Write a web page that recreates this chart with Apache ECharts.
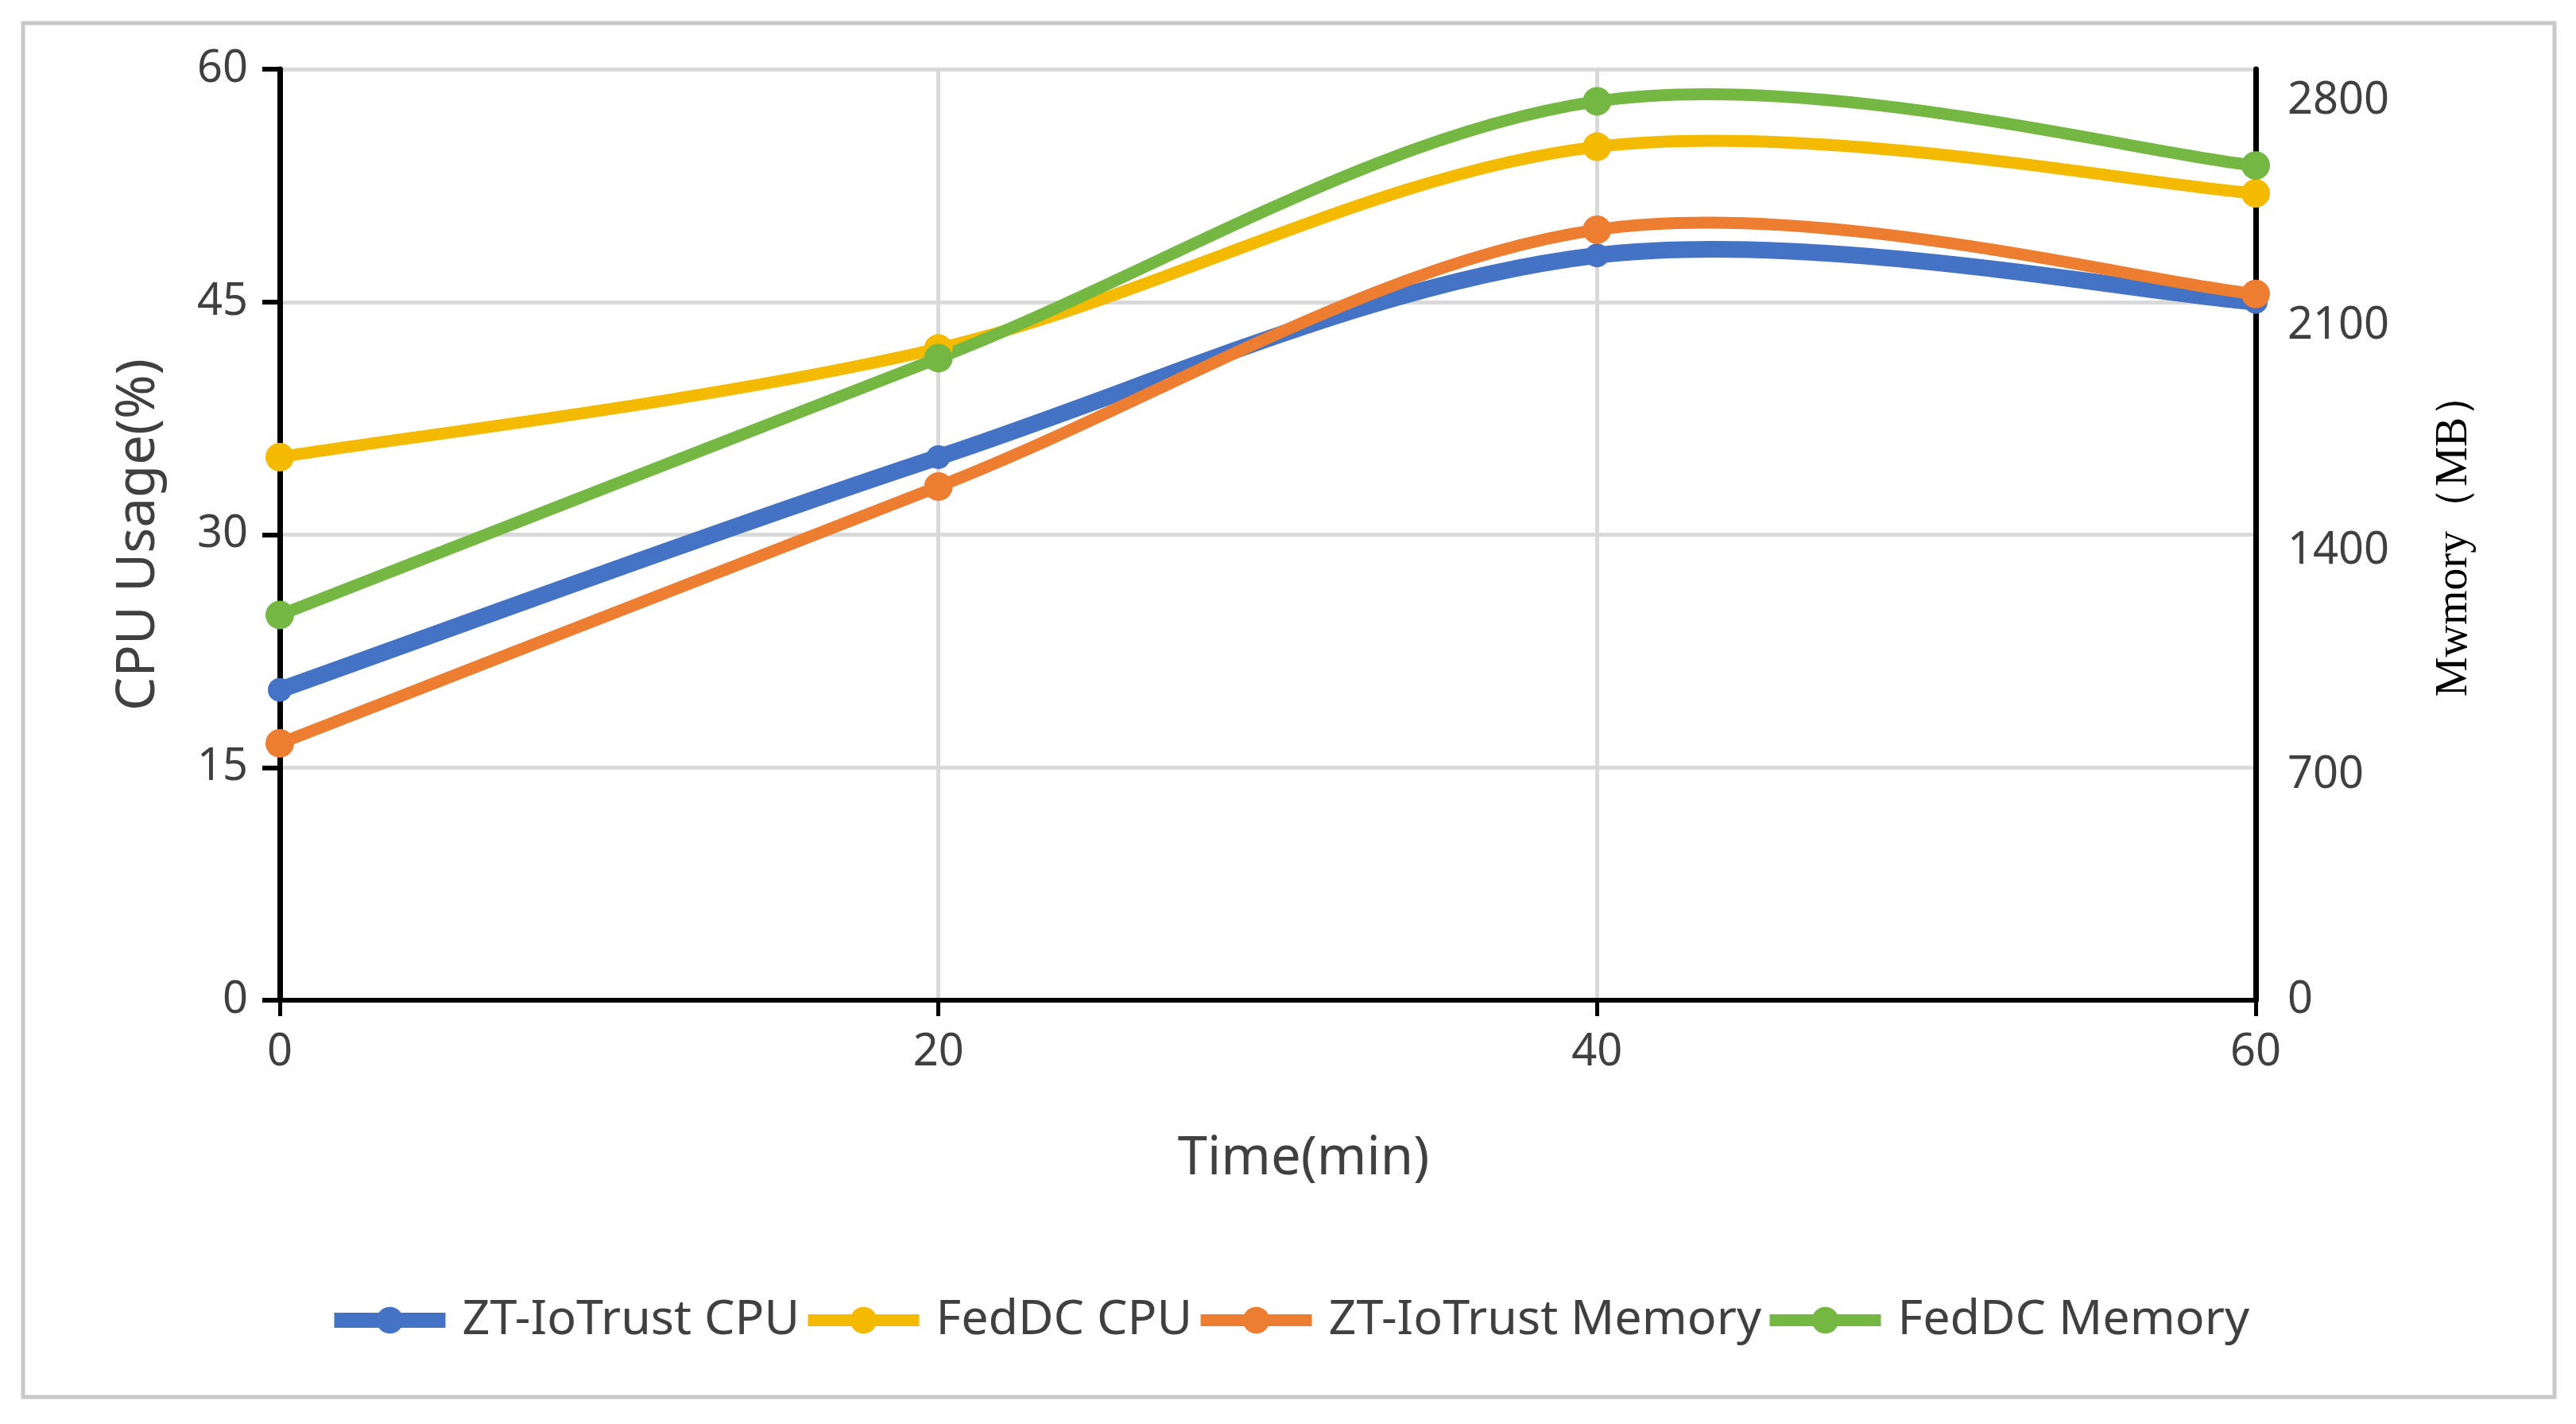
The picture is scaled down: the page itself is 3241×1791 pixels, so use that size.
<!DOCTYPE html>
<html>
<head>
<meta charset="utf-8">
<script src="https://cdn.jsdelivr.net/npm/echarts@6/dist/echarts.min.js"></script>
<style>
html,body{margin:0;padding:0;background:#fff;}
#chart{width:3241px;height:1791px;}
</style>
</head>
<body>
<div id="chart"></div>
<script>
const times = [0, 20, 40, 60];
const ztCpu = [20, 35, 48, 45];
const fedCpu = [35, 42, 55, 52];
const ztMem = [800, 1600, 2400, 2200];
const fedMem = [1200, 2000, 2800, 2600];
const seriesNames = ['ZT-IoTrust CPU', 'FedDC CPU', 'ZT-IoTrust Memory', 'FedDC Memory'];
const xTitle = 'Time(min)';
const yLeftTitle = 'CPU Usage(%)';
const yRightTitle = 'Mwmory（MB）';

const colors = ['#4472C4', '#F4BA00', '#ED7D31', '#74B843'];
const widths = [21, 15, 15, 15];
const symSizes = [30, 36, 36, 36];
const pair = (ys) => times.map((t, i) => [t, ys[i]]);

const chart = echarts.init(document.getElementById('chart'));
const labelColor = '#404040';
const sans = '"Noto Sans", "Open Sans", sans-serif';

// Smooth curve (Catmull-Rom style bezier) drawn through the axis scales via api.coord
function curveSeries(key, ys, yIdx, color, width, z) {
  return {
    type: 'custom', name: key, yAxisIndex: yIdx, data: pair(ys), silent: true, z,
    renderItem: function (params, api) {
      if (params.dataIndex !== 0) return null;
      const pts = times.map((t, i) => api.coord([t, ys[i]]));
      const n = pts.length;
      let d = 'M' + pts[0][0] + ' ' + pts[0][1];
      for (let i = 0; i < n - 1; i++) {
        const p0 = pts[Math.max(i - 1, 0)], p1 = pts[i], p2 = pts[i + 1], p3 = pts[Math.min(i + 2, n - 1)];
        const c1x = p1[0] + (p2[0] - p0[0]) / 6, c1y = p1[1] + (p2[1] - p0[1]) / 6;
        const c2x = p2[0] - (p3[0] - p1[0]) / 6, c2y = p2[1] - (p3[1] - p1[1]) / 6;
        d += ' C' + c1x + ' ' + c1y + ' ' + c2x + ' ' + c2y + ' ' + p2[0] + ' ' + p2[1];
      }
      return {
        type: 'path', shape: { pathData: d },
        style: { fill: 'none', stroke: color, lineWidth: width, lineCap: 'round', lineJoin: 'round' }
      };
    }
  };
}

function markerSeries(name, ys, yIdx, color, sym, z) {
  return {
    name, type: 'line', data: pair(ys), yAxisIndex: yIdx,
    symbol: 'circle', symbolSize: sym, showSymbol: true,
    lineStyle: { color, width: 0, opacity: 0 },
    itemStyle: { color },
    emphasis: { disabled: true },
    z
  };
}

chart.setOption({
  animation: false,
  backgroundColor: '#fff',
  color: colors,
  graphic: [{
    type: 'rect', shape: { x: 29, y: 29, width: 3185, height: 1728 },
    style: { fill: 'none', stroke: '#c8c8c8', lineWidth: 5 }, z: -10
  }],
  grid: { left: 352, right: 403, top: 87, bottom: 533, containLabel: false },
  legend: {
    data: seriesNames.map((nm, i) => ({
      name: nm,
      itemStyle: { color: colors[i] },
      lineStyle: { color: colors[i], width: i === 0 ? 19 : 15, opacity: 1 }
    })),
    left: 'center', top: 1625,
    itemWidth: 140, itemHeight: 42, itemGap: 3,
    textStyle: { fontFamily: sans, fontSize: 61, color: labelColor, padding: [0, 0, 0, 16] }
  },
  xAxis: {
    type: 'value', min: 0, max: 60, interval: 20,
    name: xTitle, nameLocation: 'middle', nameGap: 166,
    nameTextStyle: { fontFamily: sans, fontSize: 67, color: labelColor, padding: [0, 0, 0, 90] },
    axisLine: { show: true, onZero: false, lineStyle: { color: '#000', width: 6 } },
    axisTick: { show: true, length: 20, lineStyle: { color: '#000', width: 5 } },
    axisLabel: { fontFamily: sans, fontSize: 56, color: labelColor, margin: 38 },
    splitLine: { show: true, lineStyle: { color: '#d9d9d9', width: 5 } }
  },
  yAxis: [{
    type: 'value', min: 0, max: 60, interval: 15, position: 'left',
    name: yLeftTitle, nameLocation: 'middle', nameGap: 144, nameRotate: 90,
    nameTextStyle: { fontFamily: sans, fontSize: 67, color: labelColor },
    axisLine: { show: true, lineStyle: { color: '#000', width: 7 } },
    axisTick: { show: true, length: 22, lineStyle: { color: '#000', width: 6 } },
    axisLabel: { fontFamily: sans, fontSize: 56, color: labelColor, margin: 40 },
    splitLine: { show: true, lineStyle: { color: '#d9d9d9', width: 5 } }
  }, {
    type: 'value', min: 0, max: 2900, interval: 700, position: 'right',
    name: yRightTitle, nameLocation: 'middle', nameGap: 222, nameRotate: 90,
    nameTextStyle: { fontFamily: '"Liberation Serif", "DejaVu Serif", serif', fontSize: 56, color: '#000' },
    axisLine: { show: true, lineStyle: { color: '#000', width: 7 } },
    axisTick: { show: false },
    axisLabel: { fontFamily: sans, fontSize: 56, color: labelColor, margin: 40, showMaxLabel: false,
      formatter: (v) => String(v) },
    splitLine: { show: false }
  }],
  series: [
    curveSeries('c0', ztCpu, 0, colors[0], widths[0], 2),
    curveSeries('c1', fedCpu, 0, colors[1], widths[1], 2),
    curveSeries('c2', ztMem, 1, colors[2], widths[2], 2),
    curveSeries('c3', fedMem, 1, colors[3], widths[3], 2),
    markerSeries(seriesNames[0], ztCpu, 0, colors[0], symSizes[0], 3),
    markerSeries(seriesNames[1], fedCpu, 0, colors[1], symSizes[1], 3),
    markerSeries(seriesNames[2], ztMem, 1, colors[2], symSizes[2], 3),
    markerSeries(seriesNames[3], fedMem, 1, colors[3], symSizes[3], 3)
  ]
});
</script>
</body>
</html>
